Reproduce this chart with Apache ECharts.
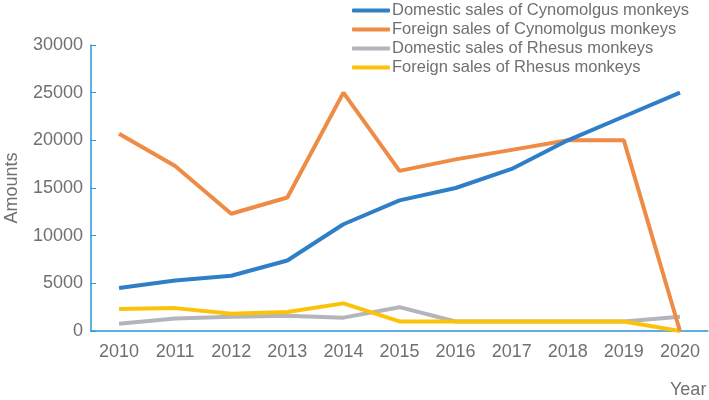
<!DOCTYPE html>
<html><head><meta charset="utf-8">
<script src="https://cdn.jsdelivr.net/npm/echarts@6/dist/echarts.min.js"></script>
<style>html,body{margin:0;padding:0;background:#fff}#c{width:709px;height:400px}</style>
</head><body><div id="c"></div>
<script>
const years = ['2010','2011','2012','2013','2014','2015','2016','2017','2018','2019','2020'];
const domesticCyno = [4500, 5300, 5800, 7400, 11200, 13700, 15000, 17000, 20000, 22500, 25000];
const foreignCyno = [20700, 17300, 12300, 14000, 25000, 16800, 18000, 19000, 20000, 20000, 0];
const domesticRhesus = [750, 1300, 1500, 1600, 1400, 2500, 1000, 1000, 1000, 1000, 1500];
const foreignRhesus = [2300, 2400, 1800, 2000, 2900, 1000, 1000, 1000, 1000, 1000, 0];
const seriesNames = ['Domestic sales of Cynomolgus monkeys','Foreign sales of Cynomolgus monkeys','Domestic sales of Rhesus monkeys','Foreign sales of Rhesus monkeys'];
const colors = ['#2f7fc8', '#ee8c45', '#b4b4bc', '#fcc20a'];
const font = "'Liberation Sans', Arial, sans-serif";
const txt = '#707070';
const axisColor = '#2b95d9';
const chart = echarts.init(document.getElementById('c'));
const dataList = [domesticCyno, foreignCyno, domesticRhesus, foreignRhesus];
chart.setOption({
  animation: false,
  color: colors,
  textStyle: {fontFamily: font},
  legend: {
    orient: 'vertical', left: 347, top: -3,
    itemWidth: 38, itemHeight: 4, itemGap: 2,
    icon: 'roundRect',
    textStyle: {color: txt, fontSize: 16.5, fontFamily: font, padding: [0,0,0,-3]},
    data: seriesNames
  },
  grid: {left: 91, right: 1, top: 45, bottom: 69, containLabel: false, outerBoundsMode: 'none'},
  xAxis: {
    type: 'category', data: years, boundaryGap: true,
    axisLine: {lineStyle: {color: axisColor, width: 1.5}},
    axisTick: {inside: true, length: 5, lineStyle: {color: axisColor}},
    axisLabel: {color: txt, fontSize: 18, margin: 12, fontFamily: font},
    name: 'Year', nameLocation: 'end', nameGap: -38,
    nameTextStyle: {color: txt, fontSize: 18, fontFamily: font, verticalAlign: 'top', padding: [50,0,0,0]}
  },
  yAxis: {
    type: 'value', min: 0, max: 30000, interval: 5000,
    axisLine: {show: true, lineStyle: {color: axisColor, width: 1.5}},
    axisTick: {show: true, inside: true, length: 5, lineStyle: {color: axisColor}},
    splitLine: {show: false},
    axisLabel: {color: txt, fontSize: 18, margin: 8, fontFamily: font, formatter: v => String(v)},
    name: 'Amounts', nameLocation: 'middle', nameGap: 70, nameRotate: 90,
    nameTextStyle: {color: txt, fontSize: 18, fontFamily: font}
  },
  series: dataList.map((d, i) => ({
    name: seriesNames[i], type: 'line', data: d, showSymbol: false, symbol: 'none',
    lineStyle: {width: 4, color: colors[i]}, z: [4,3,1,2][i]
  }))
});
</script></body></html>
